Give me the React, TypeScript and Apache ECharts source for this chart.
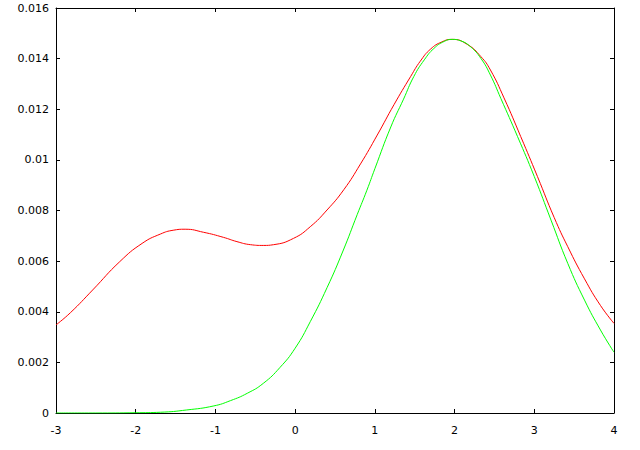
import React, { useEffect, useRef } from "react";
import * as echarts from "echarts";

const redX = [-3, -2.82, -2.54, -2.2, -1.92, -1.69, -1.53, -1.38, -1.15, -0.9, -0.73, -0.56, -0.4, -0.27, -0.02, 0.19, 0.4, 0.61, 0.82, 1.03, 1.24, 1.45, 1.57, 1.7, 1.84, 1.97, 2.16, 2.33, 2.45, 2.62, 2.83, 3.04, 3.25, 3.42, 3.63, 3.83, 4];
const redY = [0.00348, 0.00396, 0.00486, 0.00598, 0.0067, 0.00707, 0.00722, 0.00726, 0.00714, 0.00694, 0.00677, 0.00665, 0.00662, 0.00665, 0.0069, 0.00736, 0.00802, 0.00882, 0.00984, 0.01098, 0.01218, 0.0133, 0.0139, 0.01438, 0.01466, 0.01476, 0.01456, 0.01408, 0.01355, 0.01245, 0.01092, 0.00934, 0.00772, 0.00657, 0.0053, 0.00425, 0.00354];

const greenX = [-3, -2.5, -2.0, -1.69, -1.36, -1.02, -0.81, -0.6, -0.4, -0.19, 0.0, 0.19, 0.4, 0.6, 0.78, 0.9, 1.0, 1.2, 1.36, 1.49, 1.62, 1.74, 1.87, 1.97, 2.08, 2.2, 2.33, 2.45, 2.58, 2.79, 3.0, 3.21, 3.42, 3.63, 3.83, 4];
const greenY = [0, 0, 0.00001, 0.00003, 0.00012, 0.00028, 0.00049, 0.00078, 0.00117, 0.0018, 0.00256, 0.00361, 0.00495, 0.0064, 0.00785, 0.0088, 0.00965, 0.0113, 0.0124, 0.0133, 0.01395, 0.0144, 0.01468, 0.01476, 0.0147, 0.01447, 0.01401, 0.01335, 0.01243, 0.01092, 0.00934, 0.00762, 0.00591, 0.00446, 0.00328, 0.0024];

const xTicks = [-3, -2, -1, 0, 1, 2, 3, 4];
const yTicks = [0, 0.002, 0.004, 0.006, 0.008, 0.01, 0.012, 0.014, 0.016];

export default function App() {
  const ref = useRef<HTMLDivElement>(null);
  useEffect(() => {
    if (!ref.current) return;
    const chart = echarts.init(ref.current, null, { renderer: "svg" });
    const font = { color: "#000", fontFamily: "DejaVu Sans", fontSize: 11 };
    const axisLine = { show: true, onZero: false, lineStyle: { color: "#000", width: 1 } };
    const axisTick = { show: true, inside: true, length: 4, lineStyle: { color: "#000", width: 1 } };
    chart.setOption({
      animation: false,
      backgroundColor: "#fff",
      grid: { left: 56, right: 26, top: 8, bottom: 37, containLabel: false },
      xAxis: [
        {
          type: "value",
          min: xTicks[0],
          max: xTicks[xTicks.length - 1],
          interval: 1,
          axisLine,
          axisTick,
          axisLabel: { ...font, margin: 12 },
          splitLine: { show: false },
        },
        {
          type: "value",
          position: "top",
          min: xTicks[0],
          max: xTicks[xTicks.length - 1],
          interval: 1,
          axisLine,
          axisTick,
          axisLabel: { show: false },
          splitLine: { show: false },
        },
      ],
      yAxis: [
        {
          type: "value",
          min: yTicks[0],
          max: yTicks[yTicks.length - 1],
          interval: 0.002,
          axisLine,
          axisTick,
          axisLabel: { ...font, margin: 7 },
          splitLine: { show: false },
        },
        {
          type: "value",
          position: "right",
          min: yTicks[0],
          max: yTicks[yTicks.length - 1],
          interval: 0.002,
          axisLine,
          axisTick,
          axisLabel: { show: false },
          splitLine: { show: false },
        },
      ],
      series: [
        {
          type: "line",
          data: redX.map((x, i) => [x, redY[i]]),
          smooth: 0.5,
          showSymbol: false,
          lineStyle: { color: "#ff0000", width: 1 },
          itemStyle: { color: "#ff0000" },
        },
        {
          type: "line",
          data: greenX.map((x, i) => [x, greenY[i]]),
          smooth: 0.5,
          showSymbol: false,
          lineStyle: { color: "#00ff00", width: 1 },
          itemStyle: { color: "#00ff00" },
        },
      ],
    });
    return () => chart.dispose();
  }, []);
  return <div ref={ref} style={{ width: 640, height: 450, position: "absolute", left: 0, top: 0 }} />;
}
